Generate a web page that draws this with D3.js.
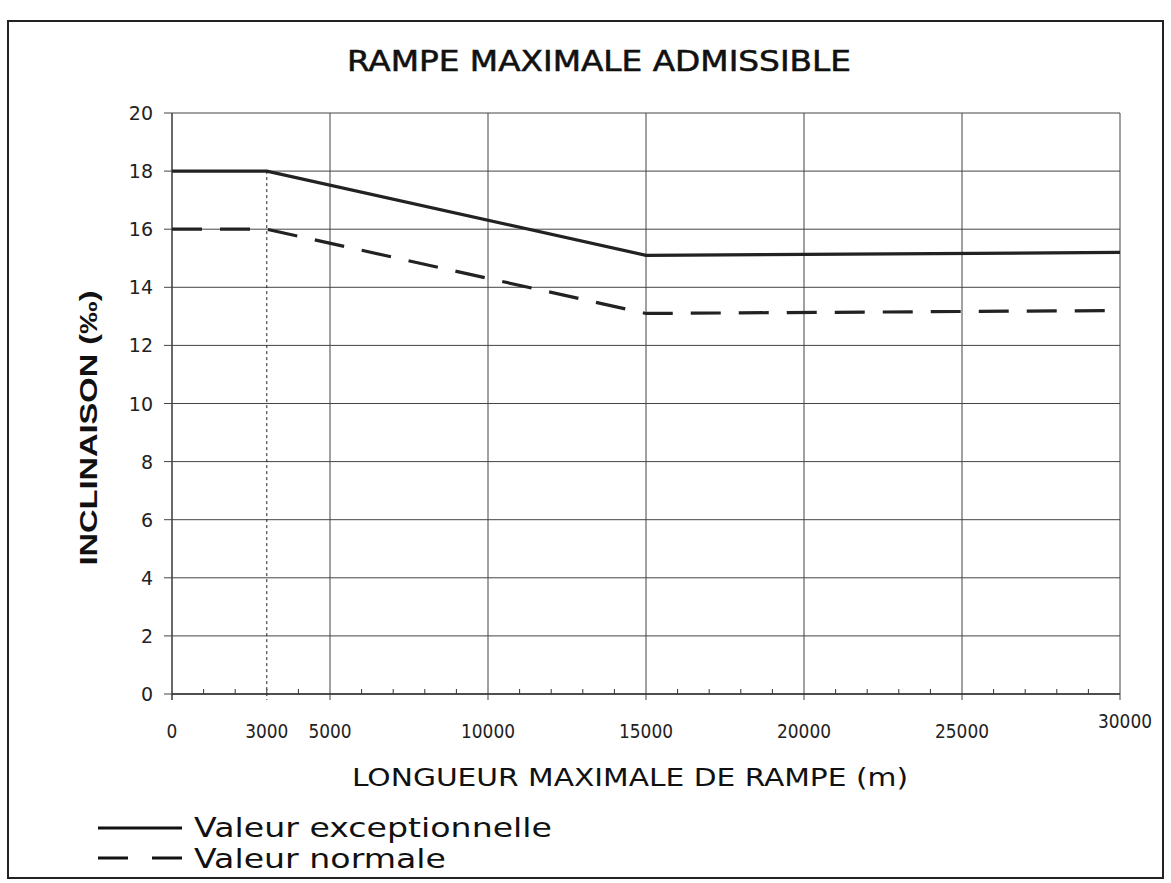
<!DOCTYPE html>
<html><head><meta charset="utf-8">
<script src="https://cdn.jsdelivr.net/npm/d3@7"></script>
<style>body{margin:0;background:#fff}</style>
</head><body>
<svg id="c" width="1171" height="883"></svg>
<script>
const xVals = [0, 3000, 15000, 30000];
const exceptionnelle = [18, 18, 15.1, 15.2];
const normale = [16, 16, 13.1, 13.2];
const xTickLabels = [0, 3000, 5000, 10000, 15000, 20000, 25000, 30000];
const yTickLabels = [0, 2, 4, 6, 8, 10, 12, 14, 16, 18, 20];
const title = "RAMPE MAXIMALE ADMISSIBLE";
const xTitle = "LONGUEUR MAXIMALE DE RAMPE (m)";
const yTitle = "INCLINAISON  (‰)";
const legendLabels = ["Valeur exceptionnelle", "Valeur normale"];

const svg = d3.select("#c");
const L = 172, R = 1120, T = 113, B = 694;
const x = d3.scaleLinear().domain([0, 30000]).range([L, R]);
const y = d3.scaleLinear().domain([0, 20]).range([B, T]);

// frame
svg.append("rect").attr("x", 8).attr("y", 21).attr("width", 1155).attr("height", 857)
  .attr("fill", "none").attr("stroke", "#222").attr("stroke-width", 2);

// title
svg.append("text").attr("x", 599).attr("y", 71).attr("text-anchor", "middle")
  .attr("font-family", "DejaVu Sans Condensed, DejaVu Sans").attr("font-size", 28)
  .attr("textLength", 504).attr("lengthAdjust", "spacingAndGlyphs")
  .attr("fill", "#111").attr("stroke", "#111").attr("stroke-width", 0.5).text(title);

// horizontal grid
svg.append("g").selectAll("line").data(yTickLabels).join("line")
  .attr("x1", L - 8).attr("x2", R).attr("y1", d => y(d)).attr("y2", d => y(d))
  .attr("stroke", "#444").attr("stroke-width", 1);

// vertical grid
const vg = xTickLabels.filter(d => d % 5000 === 0);
svg.append("g").selectAll("line").data(vg).join("line")
  .attr("x1", d => x(d)).attr("x2", d => x(d)).attr("y1", T).attr("y2", B + 6)
  .attr("stroke", "#444").attr("stroke-width", d => (d === 0 ? 1.6 : 1));
// dotted 3000 line
svg.append("line").attr("x1", x(3000)).attr("x2", x(3000)).attr("y1", y(18)).attr("y2", B + 6)
  .attr("stroke", "#222").attr("stroke-width", 1).attr("stroke-dasharray", "3,3");

// minor ticks on x axis
svg.append("g").selectAll("line").data(d3.range(1000, 30000, 1000).filter(d => d % 5000 !== 0))
  .join("line").attr("x1", d => x(d)).attr("x2", d => x(d)).attr("y1", B).attr("y2", B - 5)
  .attr("stroke", "#333").attr("stroke-width", 1);
// x axis line
svg.append("line").attr("x1", L).attr("x2", R).attr("y1", B).attr("y2", B)
  .attr("stroke", "#333").attr("stroke-width", 1.6);

// y tick labels
svg.append("g").selectAll("text").data(yTickLabels).join("text")
  .attr("x", 153).attr("y", d => y(d) + 7).attr("text-anchor", "end")
  .attr("font-family", "DejaVu Sans").attr("font-size", 19).attr("fill", "#222").text(d => d);

// x tick labels
svg.append("g").selectAll("text").data(xTickLabels).join("text")
  .attr("x", d => d === 30000 ? x(d) + 5 : x(d)).attr("y", d => d === 30000 ? 728 : 738)
  .attr("text-anchor", "middle")
  .attr("font-family", "DejaVu Sans Condensed, DejaVu Sans").attr("font-size", 19)
  .attr("textLength", d => String(d).length * 10.8).attr("lengthAdjust", "spacingAndGlyphs")
  .attr("fill", "#222").text(d => d);

// axis titles
svg.append("text").attr("x", 630).attr("y", 786).attr("text-anchor", "middle")
  .attr("font-family", "DejaVu Sans Condensed, DejaVu Sans").attr("font-size", 24)
  .attr("textLength", 556).attr("lengthAdjust", "spacingAndGlyphs")
  .attr("fill", "#111").text(xTitle);
svg.append("text").attr("transform", "translate(97,428) rotate(-90)").attr("text-anchor", "middle")
  .attr("font-family", "Liberation Sans").attr("font-weight", "bold").attr("font-size", 23)
  .attr("textLength", 275).attr("lengthAdjust", "spacingAndGlyphs")
  .attr("fill", "#111").text(yTitle);

// lines
const line = d3.line().x(d => x(d[0])).y(d => y(d[1]));
svg.append("path").datum(xVals.map((v, i) => [v, exceptionnelle[i]])).attr("d", line)
  .attr("fill", "none").attr("stroke", "#222").attr("stroke-width", 3.2);
svg.append("path").datum(xVals.map((v, i) => [v, normale[i]])).attr("d", line)
  .attr("fill", "none").attr("stroke", "#222").attr("stroke-width", 3.2)
  .attr("stroke-dasharray", "30,18");

// legend
svg.append("line").attr("x1", 98).attr("x2", 182).attr("y1", 828).attr("y2", 828)
  .attr("stroke", "#111").attr("stroke-width", 3);
svg.append("line").attr("x1", 98).attr("x2", 182).attr("y1", 858).attr("y2", 858)
  .attr("stroke", "#111").attr("stroke-width", 3).attr("stroke-dasharray", "30,24");
const legendWidths = [358, 252];
svg.append("g").selectAll("text").data(legendLabels).join("text")
  .attr("x", 194).attr("y", (d, i) => 837 + i * 31)
  .attr("font-family", "DejaVu Sans").attr("font-size", 27)
  .attr("textLength", (d, i) => legendWidths[i]).attr("lengthAdjust", "spacingAndGlyphs")
  .attr("fill", "#111").text(d => d);
</script>
</body></html>
